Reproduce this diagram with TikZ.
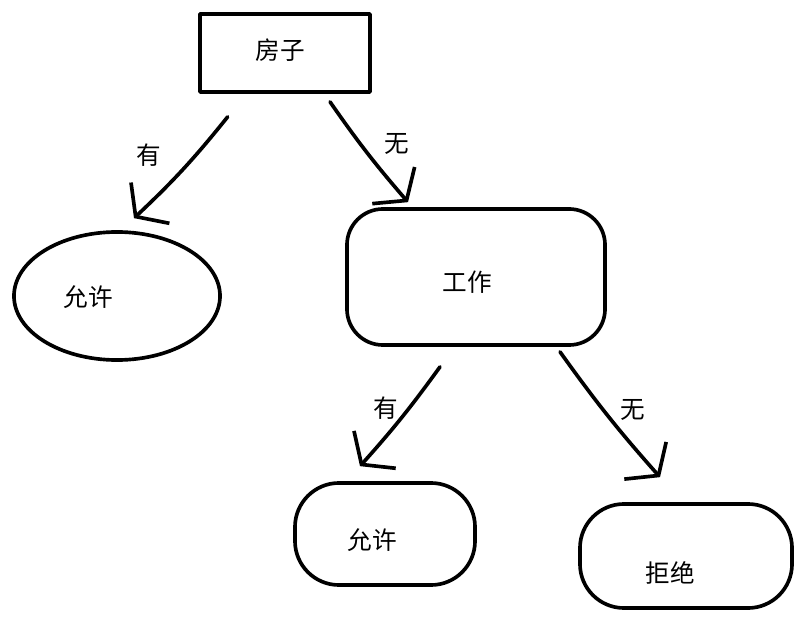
\documentclass[tikz,border=0pt]{standalone}
\usepackage{fontspec}
\newfontfamily\cjk{Noto Sans CJK SC}
\usetikzlibrary{positioning,arrows.meta,shapes.geometric,calc}
\tikzset{
  ink/.style={draw=black, line width=2.6pt, line join=round, line cap=round},
  test-node/.style={ink, rectangle, minimum width=4.25cm, minimum height=1.95cm,
    inner sep=0pt},
  work-node/.style={ink, rectangle, rounded corners=0.9cm, minimum width=6.45cm,
    minimum height=3.4cm, inner sep=0pt},
  leaf-egg/.style={ink, ellipse, minimum width=5.15cm, minimum height=3.2cm,
    inner sep=0pt},
  leaf-node/.style={ink, rectangle, rounded corners=1.1cm, inner sep=0pt},
  branch-arrow/.style={ink, -{Straight Barb[length=5mm, width=14mm, line width=2.6pt]}},
  branch-label/.style={font=\cjk\fontsize{17.5}{20}\selectfont, inner sep=0pt},
  leaf-text/.style={font=\cjk\fontsize{17.5}{20}\selectfont, inner sep=0pt}
}
\begin{document}
\begin{tikzpicture}[x=0.025cm, y=-0.025cm]
\useasboundingbox (0,0) rectangle (806,622);

% Root test
\node[test-node] (house) at (285,53) {};
\node[leaf-text] (houseText) at (280,50) {房子};

% Leaves and the second test
\node[leaf-egg] (allowA) at (117,296)
  {};
\node[leaf-text] (allowAText) at (88,297) {允许};
\node[work-node] (work) at (476,277) {};
\node[leaf-text] (workText) at (467,282) {工作};
\node[leaf-node, minimum width=4.5cm, minimum height=2.55cm] (allowB) at (385,534) {};
\node[leaf-text] (allowBText) at (372,540) {允许};
\node[leaf-node, minimum width=5.3cm, minimum height=2.6cm] (refuse) at (686,556) {};
\node[leaf-text] (refuseText) at (670,573) {拒绝};

% Branches
\draw[branch-arrow] ([shift={(1,23)}]house.215) to[bend left=4]
  node[branch-label, pos=0.35, xshift=-1.18cm] {有} ([shift={(17,-12)}]allowA.north);
\draw[branch-arrow] ([shift={(45,8)}]house.south) to[bend right=3]
  node[branch-label, pos=0.4, xshift=0.9cm] {无} ([shift={(-68,-5)}]work.north);
\draw[branch-arrow] ([shift={(-36,20)}]work.south) to[bend left=3]
  node[branch-label, pos=0.4, xshift=-0.58cm] {有} ([shift={(-25,-15)}]allowB.north);
\draw[branch-arrow] ([shift={(84,5)}]work.south) to[bend right=3]
  node[branch-label, pos=0.45, xshift=0.73cm] {无} ([shift={(-26,-25)}]refuse.north);
\end{tikzpicture}
\end{document}
